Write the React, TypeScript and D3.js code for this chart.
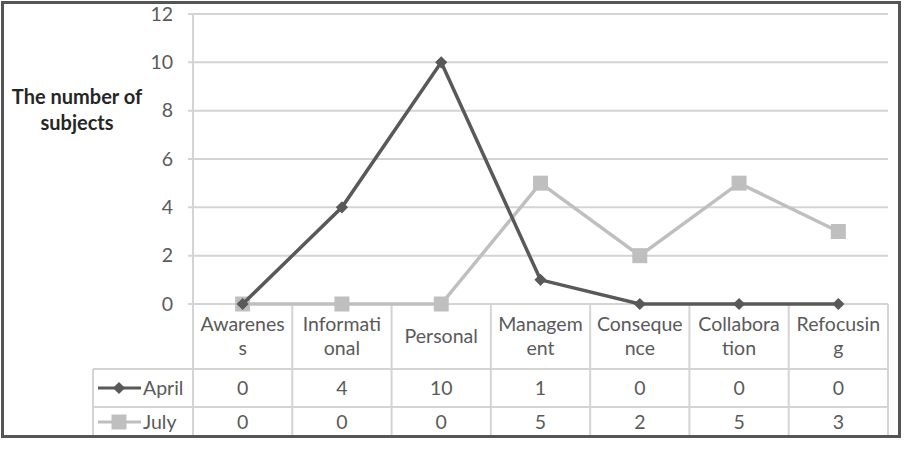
import React from 'react';
import * as d3 from 'd3';

const categories = ['Awareness', 'Informational', 'Personal', 'Management', 'Consequence', 'Collaboration', 'Refocusing'];
const categoryLines = [
	['Awarenes', 's'],
	['Informati', 'onal'],
	['Personal'],
	['Managem', 'ent'],
	['Conseque', 'nce'],
	['Collabora', 'tion'],
	['Refocusin', 'g'],
];
const april = [0, 4, 10, 1, 0, 0, 0];
const july = [0, 0, 0, 5, 2, 5, 3];
const yTicks = [0, 2, 4, 6, 8, 10, 12];

const width = 904;
const height = 450;
const plot = { left: 193, right: 888, top: 14, bottom: 304 };
const rows = { catBottom: 369, aprilBottom: 407, julyBottom: 437, legendLeft: 93 };
const font = 'Lato, "Open Sans", sans-serif';
const textColor = '#5a5a5a';
const aprilColor = '#595959';
const julyColor = '#bfbfbf';
const gridColor = '#d4d4d4';
const fs = 19.5;

const App = () => {
	const x = d3.scaleBand().domain(categories)
		.range([plot.left, plot.right]);
	const y = d3.scaleLinear().domain([0, 12])
		.range([plot.bottom, plot.top]);
	const cx = (c) => x(c) + (x.bandwidth() / 2);
	const line = d3.line().x((d, i) => cx(categories[i]))
		.y((d) => y(d));
	const diamond = d3.symbol().type(d3.symbolDiamond2)
		.size(95);

	const series = [
		{ name: 'April', values: april, color: aprilColor, rowTop: rows.catBottom, rowBottom: rows.aprilBottom },
		{ name: 'July', values: july, color: julyColor, rowTop: rows.aprilBottom, rowBottom: rows.julyBottom },
	];

	const marker = (name, color, px, py, key) => (name === 'April'
		? <path key={ key } d={ diamond() } transform={ `translate(${ px },${ py })` } fill={ color }/>
		: <rect key={ key } x={ px - 7.5 } y={ py - 7.5 } width={ 15 } height={ 15 } fill={ color }/>);

	return (
		<svg width={ width } height={ height } style={ { position: 'absolute', left: 0, top: 0, background: '#fff' } }
			fontFamily={ font }>
			<rect x={ 0 } y={ 0 } width={ width } height={ height } fill="#fff"/>
			{/* grid + y ticks */}
			{ yTicks.map((t) => (
				<g key={ t }>
					<line x1={ plot.left - 5 } x2={ plot.right } y1={ y(t) } y2={ y(t) } stroke={ gridColor } strokeWidth={ 2 }/>
					<text x={ 173 } y={ y(t) } dy="0.35em" textAnchor="end" fontSize={ fs } fill={ textColor }>{ t }</text>
				</g>
			)) }
			<line x1={ plot.left } x2={ plot.left } y1={ plot.top } y2={ rows.julyBottom } stroke={ gridColor } strokeWidth={ 2 }/>
			{/* y label */}
			<text x={ 77 } y={ 97 } dy="0.35em" textAnchor="middle" fontSize={ 20 } fontWeight="bold" fill="#262626">The number of</text>
			<text x={ 77 } y={ 123 } dy="0.35em" textAnchor="middle" fontSize={ 20 } fontWeight="bold" fill="#262626">subjects</text>
			{/* data table */}
			{ categories.map((c) => (
				<line key={ c } x1={ x(c) + x.bandwidth() } x2={ x(c) + x.bandwidth() } y1={ plot.bottom } y2={ rows.julyBottom }
					stroke={ gridColor } strokeWidth={ 2 }/>
			)) }
			<line x1={ rows.legendLeft } x2={ rows.legendLeft } y1={ rows.catBottom } y2={ rows.julyBottom } stroke={ gridColor } strokeWidth={ 2 }/>
			<line x1={ rows.legendLeft } x2={ plot.right } y1={ rows.catBottom } y2={ rows.catBottom } stroke={ gridColor } strokeWidth={ 2 }/>
			<line x1={ rows.legendLeft } x2={ plot.right } y1={ rows.aprilBottom } y2={ rows.aprilBottom } stroke={ gridColor } strokeWidth={ 2 }/>
			{ categoryLines.map((lines, i) => {
				const mid = (plot.bottom + rows.catBottom) / 2;
				const start = mid - ((lines.length - 1) * 24 / 2);

				return lines.map((l, j) => (
					<text key={ `${ i }-${ j }` } x={ cx(categories[i]) } y={ start + (j * 24) } dy="0.35em" textAnchor="middle"
						fontSize={ fs } fill={ textColor }>{ l }</text>
				));
			}) }
			{ series.map((s) => {
				const my = (s.rowTop + s.rowBottom) / 2;

				return (
					<g key={ s.name }>
						<line x1={ 98 } x2={ 141 } y1={ my } y2={ my } stroke={ s.color } strokeWidth={ 3 }/>
						{ marker(s.name, s.color, 119, my, 'm') }
						<text x={ 143 } y={ my } dy="0.35em" fontSize={ fs } fill={ textColor }>{ s.name }</text>
						{ s.values.map((v, i) => (
							<text key={ i } x={ cx(categories[i]) } y={ my } dy="0.35em" textAnchor="middle" fontSize={ fs }
								fill={ textColor }>{ v }</text>
						)) }
					</g>
				);
			}) }
			{/* lines */}
			{ [...series].reverse().map((s) => (
				<g key={ s.name }>
					<path d={ line(s.values) } fill="none" stroke={ s.color } strokeWidth={ 3.5 }/>
					{ s.values.map((v, i) => marker(s.name, s.color, cx(categories[i]), y(v), i)) }
				</g>
			)) }
			<rect x={ 2.5 } y={ 2.5 } width={ 897 } height={ 434 } fill="none" stroke="#555" strokeWidth={ 3 }/>
		</svg>
	);
};

export default App;
